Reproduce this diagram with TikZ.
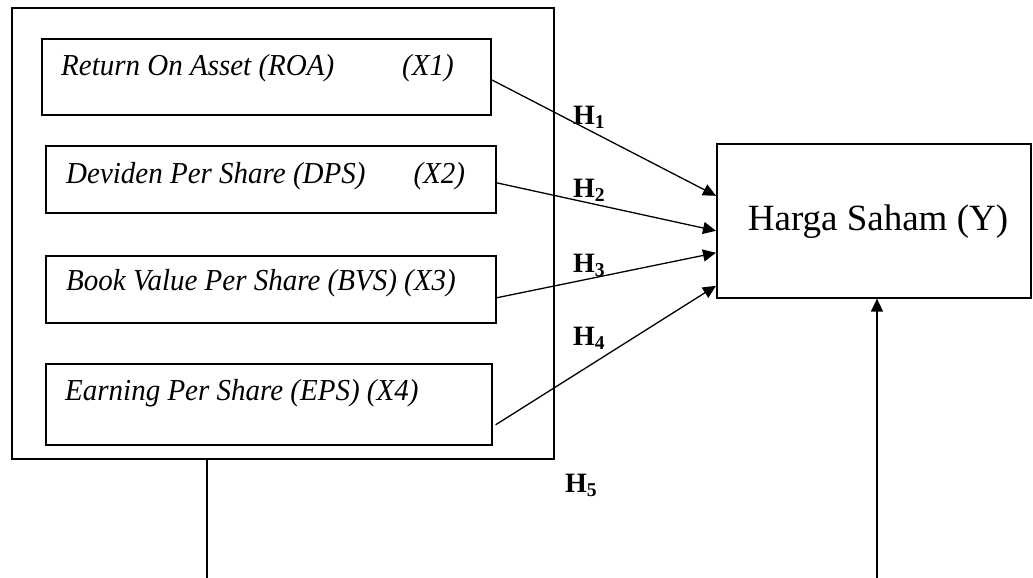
\documentclass[tikz,border=0pt]{standalone}
\usepackage{fontspec}
\setmainfont{Liberation Serif}
\usetikzlibrary{arrows.meta}
\newcommand{\tallit}[1]{\scalebox{1}[1.05]{#1}}
\begin{document}
\begin{tikzpicture}[x=1pt,y=-1pt,
  box/.style={draw, line width=1.6pt, rectangle, inner sep=0pt, anchor=north west},
  lbl/.style={anchor=base west, inner sep=0pt, font=\fontsize{29}{34}\selectfont\itshape},
  hyp/.style={anchor=base west, inner sep=0pt, font=\fontsize{28}{32}\selectfont\bfseries},
  conn/.style={line width=1.3pt},
  arr/.style={conn, -{Triangle[length=13pt,width=12pt]}}]
\useasboundingbox (0,0) rectangle (1033,578);
\node[box, minimum width=542pt, minimum height=451pt] (outer) at (11,7) {};
\node[box, minimum width=449pt, minimum height=76pt] (b1) at (41,38) {};
\node[box, minimum width=450pt, minimum height=67pt] (b2) at (45,145) {};
\node[box, minimum width=450pt, minimum height=67pt] (b3) at (45,255) {};
\node[box, minimum width=446pt, minimum height=81pt] (b4) at (45,363) {};
\node[box, minimum width=314pt, minimum height=154pt] (y) at (716,143) {};
% texts
\node[lbl] (t1) at (61,76) {\tallit{Return On Asset (ROA)\hspace{68pt}(X1)}};
\node[lbl] (t2) at (66,183) {\tallit{Deviden Per Share (DPS)\hspace{48pt}(X2)}};
\node[lbl] (t3) at (66,290) {\tallit{Book Value Per Share (BVS) (X3)}};
\node[lbl] (t4) at (65,400) {\tallit{Earning Per Share (EPS) (X4)}};
\node[anchor=base, inner sep=0pt, font=\fontsize{37}{42}\selectfont] (ty) at (878,230) {Harga Saham (Y)};
% hypothesis labels
\node[hyp] (h1) at (573,124) {H\textsubscript{1}};
\node[hyp] (h2) at (573,197) {H\textsubscript{2}};
\node[hyp] (h3) at (573,272) {H\textsubscript{3}};
\node[hyp] (h4) at (573,345) {H\textsubscript{4}};
\node[hyp] (h5) at (565,492) {H\textsubscript{5}};
% connectors
\draw[arr] ([yshift=-3pt]b1.east) -- ([yshift=25pt]y.west);
\draw[arr] ([yshift=-3.5pt]b2.east) -- ([yshift=-10pt]y.west);
\draw[arr] ([yshift=-8.5pt]b3.east) -- ([yshift=-32pt]y.west);
\draw[arr] ([xshift=3pt,yshift=-20.5pt]b4.east) -- ([yshift=-65pt]y.west);
\coordinate (f1) at (207,578);
\coordinate (f2) at (877,578);
\draw[conn] (f1 |- outer.south) -- (f1);
\draw[arr] (f2) -- (f2 |- y.south);
\end{tikzpicture}
\end{document}
